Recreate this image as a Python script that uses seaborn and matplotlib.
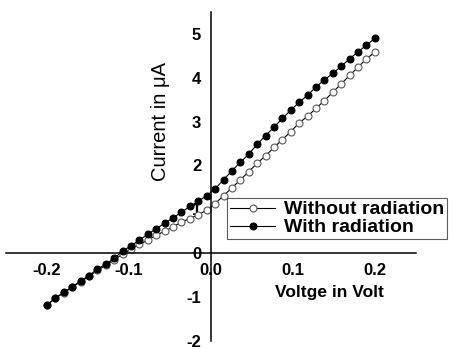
import pandas as pd
import seaborn as sns
import matplotlib.pyplot as plt

# voltage steps (V)
voltage = [-0.2, -0.1897, -0.1795, -0.1692, -0.159, -0.1487, -0.1385, -0.1282,
           -0.1179, -0.1077, -0.0974, -0.0872, -0.0769, -0.0667, -0.0564, -0.0462,
           -0.0359, -0.0256, -0.0154, -0.0051, 0.0051, 0.0154, 0.0256, 0.0359,
           0.0462, 0.0564, 0.0667, 0.0769, 0.0872, 0.0974, 0.1077, 0.1179,
           0.1282, 0.1385, 0.1487, 0.159, 0.1692, 0.1795, 0.1897, 0.2]

# current (uA) without radiation
current_dark = [-1.18, -1.03, -0.90, -0.78, -0.65, -0.53, -0.39, -0.28, -0.15, -0.02,
                0.09, 0.20, 0.30, 0.41, 0.50, 0.60, 0.71, 0.79, 0.88, 0.98,
                1.13, 1.31, 1.49, 1.67, 1.86, 2.05, 2.22, 2.41, 2.59, 2.77,
                2.97, 3.12, 3.30, 3.48, 3.67, 3.86, 4.05, 4.24, 4.43, 4.58]

# current (uA) with radiation
current_rad = [-1.18, -1.02, -0.89, -0.77, -0.63, -0.51, -0.36, -0.25, -0.12, 0.05,
               0.17, 0.30, 0.43, 0.56, 0.68, 0.81, 0.93, 1.07, 1.18, 1.31,
               1.47, 1.67, 1.88, 2.07, 2.26, 2.48, 2.68, 2.87, 3.07, 3.26,
               3.44, 3.60, 3.79, 3.95, 4.10, 4.26, 4.43, 4.59, 4.74, 4.90]

labels = ['Without radiation', 'With radiation']

df = pd.DataFrame({'V': voltage, 'dark': current_dark, 'rad': current_rad})

sns.set_style('white')
plt.rcParams['font.family'] = ['Liberation Sans', 'DejaVu Sans']
plt.rcParams['axes.unicode_minus'] = False
plt.rcParams['text.color'] = 'black'
plt.rcParams['axes.labelcolor'] = 'black'

fig = plt.figure(figsize=(4.54, 3.49), dpi=100)
ax = fig.add_axes([0.013, 0.023, 0.903, 0.943])

sns.lineplot(data=df, x='V', y='dark', ax=ax, color='black', lw=0.8,
             marker='o', markersize=5, markerfacecolor='white',
             markeredgecolor='#555555', markeredgewidth=0.8, label=labels[0])
sns.lineplot(data=df, x='V', y='rad', ax=ax, color='black', lw=0.8,
             marker='o', markersize=5, markerfacecolor='black',
             markeredgecolor='black', label=labels[1])

ax.set_xlim(-0.25, 0.25)
ax.set_ylim(-2, 5.5)
ax.set_xticks([-0.2, -0.1, 0.0, 0.1, 0.2])
ax.set_xticklabels(['-0.2', '-0.1', '0.0', '0.1', '0.2'])
ax.set_yticks([-2, -1, 0, 1, 2, 3, 4, 5])

# axes crossing at the origin
ax.spines['left'].set_position(('data', 0))
ax.spines['bottom'].set_position(('data', 0))
ax.spines['top'].set_visible(False)
ax.spines['right'].set_visible(False)
for s in ['left', 'bottom']:
    ax.spines[s].set_color('black')
    ax.spines[s].set_linewidth(1.1)

ax.tick_params(axis='both', direction='out', length=4, width=1.1,
               colors='black', labelsize=12, pad=3)
for t in ax.get_xticklabels() + ax.get_yticklabels():
    t.set_fontweight('bold')

ax.set_xlabel('Voltge in Volt', fontsize=12.5, fontweight='bold')
ax.xaxis.set_label_coords(0.79, 0.146)
ax.xaxis.label.set_va('center')
ax.set_ylabel('Current in \u03bcA', fontsize=14.5, color='black')
ax.yaxis.set_label_coords(0.376, 0.667)
ax.yaxis.label.set_va('center')

leg = ax.legend(loc='upper left', bbox_to_anchor=(0.54, 0.435),
                prop={'weight': 'bold', 'size': 14},
                frameon=True, fancybox=False, borderpad=0.15,
                handlelength=2.3, handletextpad=0.45, labelspacing=0.02,
                borderaxespad=0)
leg.get_frame().set_edgecolor('#333333')
leg.get_frame().set_linewidth(0.8)

plt.savefig('out.png', dpi=100)
